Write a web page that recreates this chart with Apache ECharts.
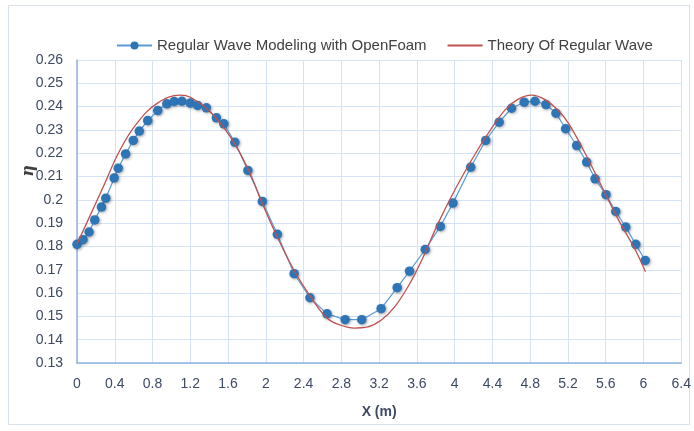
<!DOCTYPE html>
<html><head><meta charset="utf-8">
<script src="https://cdn.jsdelivr.net/npm/echarts@6/dist/echarts.min.js"></script>
<style>html,body{margin:0;padding:0;background:#fff}#c{width:694px;height:431px}</style>
</head><body><div id="c"></div>
<script>
// OpenFoam simulation points (x in m, eta)
const foamX = [0.0, 0.064, 0.128, 0.188, 0.259, 0.305, 0.394, 0.437, 0.515, 0.596, 0.660, 0.749, 0.855, 0.951, 1.029, 1.111, 1.200, 1.278, 1.370, 1.476, 1.555, 1.672, 1.810, 1.963, 2.122, 2.300, 2.467, 2.648, 2.840, 3.016, 3.221, 3.391, 3.522, 3.688, 3.848, 3.982, 4.170, 4.329, 4.471, 4.602, 4.736, 4.850, 4.966, 5.073, 5.175, 5.292, 5.398, 5.487, 5.603, 5.706, 5.812, 5.918, 6.018];
const foamY = [0.1809, 0.1829, 0.1862, 0.1914, 0.1969, 0.2007, 0.2094, 0.2136, 0.2197, 0.2255, 0.2295, 0.2340, 0.2383, 0.2412, 0.2422, 0.2423, 0.2415, 0.2405, 0.2395, 0.2352, 0.2326, 0.2247, 0.2126, 0.1993, 0.1852, 0.1683, 0.1580, 0.1511, 0.1486, 0.1486, 0.1533, 0.1623, 0.1694, 0.1787, 0.1886, 0.1986, 0.2140, 0.2255, 0.2333, 0.2393, 0.2419, 0.2423, 0.2409, 0.2372, 0.2305, 0.2233, 0.2162, 0.2090, 0.2022, 0.1950, 0.1883, 0.1809, 0.1740];
// Theory curve
const theoryX = [0.0, 0.100, 0.277, 0.454, 0.632, 0.845, 1.093, 1.200, 1.412, 1.624, 1.819, 1.962, 2.121, 2.298, 2.476, 2.653, 2.795, 2.936, 3.079, 3.220, 3.362, 3.504, 3.650, 3.823, 4.000, 4.178, 4.355, 4.532, 4.674, 4.816, 4.957, 5.100, 5.206, 5.383, 5.560, 5.738, 5.915, 6.021];
const theoryY = [0.1810, 0.1898, 0.2055, 0.2213, 0.2327, 0.2413, 0.2449, 0.2440, 0.2377, 0.2270, 0.2127, 0.1984, 0.1841, 0.1698, 0.1583, 0.1491, 0.1462, 0.1450, 0.1455, 0.1483, 0.1540, 0.1626, 0.1740, 0.1898, 0.2041, 0.2170, 0.2285, 0.2385, 0.2432, 0.2449, 0.2430, 0.2382, 0.2328, 0.2199, 0.2055, 0.1912, 0.1784, 0.1691];
const seriesNames = ['Regular Wave Modeling with OpenFoam', 'Theory Of Regular Wave'];
const xAxisTitle = 'X (m)';
const yAxisTitle = 'η';

const FONT = '"Liberation Sans", sans-serif';
const LABEL = '#3d4a63';
const chart = echarts.init(document.getElementById('c'), null, {renderer: 'canvas'});
chart.setOption({
  animation: false,
  backgroundColor: '#fff',
  textStyle: {fontFamily: FONT},
  graphic: [
    {type: 'rect', shape: {x: 8.5, y: 5.5, width: 681, height: 419}, style: {fill: 'none', stroke: '#d9e1ec', lineWidth: 1}, z: -1},
    {type: 'text', x: 29, y: 171, rotation: Math.PI / 2, style: {text: yAxisTitle, font: 'italic bold 16px "DejaVu Serif", serif', fill: '#404040', align: 'center', verticalAlign: 'middle'}}
  ],
  legend: {
    top: 33, left: 111, itemWidth: 35, itemHeight: 10, itemGap: 20,
    textStyle: {fontFamily: FONT, fontSize: 15, color: '#404040'},
    data: [
      {name: seriesNames[0]},
      {name: seriesNames[1], itemStyle: {opacity: 0}}
    ]
  },
  grid: {left: 77, right: 12, top: 60, bottom: 68},
  xAxis: {
    type: 'value', min: 0, max: 6.4, interval: 0.4,
    name: xAxisTitle, nameLocation: 'middle', nameGap: 42,
    nameTextStyle: {fontFamily: FONT, fontSize: 14, fontWeight: 'bold', color: LABEL},
    axisLine: {lineStyle: {color: '#8fb4e3', width: 1.5}},
    axisTick: {show: false},
    axisLabel: {margin: 14, fontSize: 14, color: LABEL, fontFamily: FONT, formatter: v => String(+v.toFixed(1))},
    splitLine: {show: true, lineStyle: {color: '#d3e2f5', width: 1}}
  },
  yAxis: {
    type: 'value', min: 0.13, max: 0.26, interval: 0.01,
    axisLine: {show: true, lineStyle: {color: '#8fb4e3', width: 1.5}},
    axisTick: {show: false},
    axisLabel: {margin: 14, fontSize: 14, color: LABEL, fontFamily: FONT, formatter: v => String(+v.toFixed(2))},
    splitLine: {show: true, lineStyle: {color: '#d3e2f5', width: 1}}
  },
  series: [
    {
      name: seriesNames[0], type: 'line',
      data: foamX.map((x, i) => [x, foamY[i]]),
      symbol: 'circle', symbolSize: 9.5, showAllSymbol: true,
      lineStyle: {color: '#5b9bd5', width: 1.2},
      itemStyle: {color: '#2e75b6', shadowColor: 'rgba(0,0,0,0.35)', shadowBlur: 3, shadowOffsetX: 1, shadowOffsetY: 1},
      z: 2
    },
    {
      name: seriesNames[1], type: 'line',
      data: theoryX.map((x, i) => [x, theoryY[i]]),
      symbol: 'none', smooth: 0.4,
      lineStyle: {color: '#c0504d', width: 1.3},
      itemStyle: {color: '#c0504d'},
      z: 3
    }
  ]
});
</script></body></html>
